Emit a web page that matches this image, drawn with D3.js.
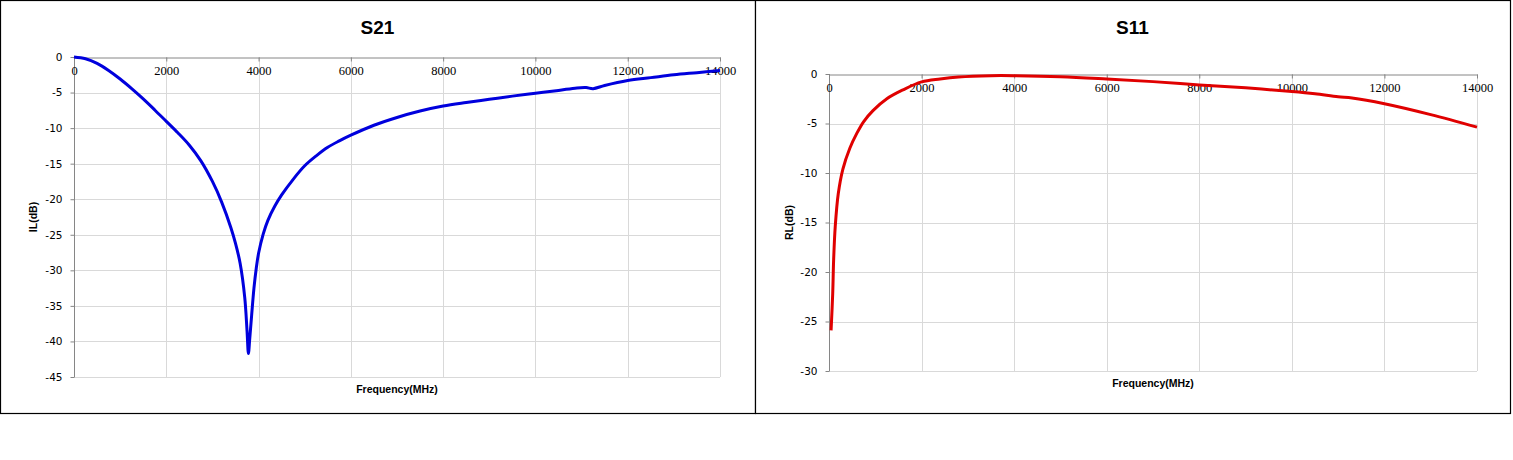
<!DOCTYPE html>
<html>
<head>
  <meta charset="utf-8">
  <script src="https://d3js.org/d3.v7.min.js"></script>
  <style>
    body { margin: 0; background: #fff; }
    svg { display: block; }
    .title { font-family: "Liberation Sans", Arial, sans-serif; font-weight: bold; font-size: 19px; fill: #000; }
    .axis-title { font-family: "Liberation Sans", Arial, sans-serif; font-weight: bold; font-size: 10.5px; fill: #000; }
    .xaxis text { font-family: "Liberation Serif", serif; font-size: 12.5px; fill: #000; }
    .yaxis text { font-family: "DejaVu Sans", sans-serif; font-size: 10.5px; fill: #000; }
    .xaxis line, .yaxis line, .xaxis path, .yaxis path { stroke: #868686; }
    .grid line { stroke: #d9d9d9; stroke-width: 1; }
  </style>
</head>
<body>
<script>
// S21 insertion loss
var s21Freq = [0, 250, 500, 750, 1000, 1250, 1500, 1750, 2000, 2250, 2500, 2750, 3000, 3200, 3400, 3500,
               3600, 3700, 3750, 3780, 3810, 3850, 3900, 3950, 4000, 4100, 4200, 4350, 4500, 4750, 5000,
               5250, 5500, 5750, 6000, 6500, 7000, 7500, 8000, 8500, 9000, 9500, 10000, 10500, 10900,
               11100, 11250, 11500, 12000, 12500, 13000, 13500, 14000];
var s21Loss = [0, -0.25, -0.9, -1.9, -3.1, -4.45, -5.9, -7.45, -9.05, -10.65, -12.4, -14.6, -17.5, -20.4, -24.0, -26.2,
               -29.0, -33.8, -38.5, -41.7, -39.5, -36.3, -32.5, -29.7, -27.6, -24.9, -23.0, -21.0, -19.4, -17.2, -15.3,
               -13.9, -12.7, -11.8, -11.0, -9.6, -8.5, -7.6, -6.9, -6.4, -5.95, -5.5, -5.1, -4.7, -4.35,
               -4.3, -4.45, -4.0, -3.3, -2.9, -2.5, -2.2, -1.9];

// S11 return loss
var s11Freq = [45, 80, 100, 135, 200, 300, 450, 600, 750, 950, 1250, 1600, 2000, 2400, 2800, 3500, 4000,
               5000, 6000, 7000, 8000, 9000, 10000, 10500, 11000, 11300, 12000, 13000, 14000];
var s11Return = [-25.9, -22.2, -18.8, -15.4, -12.1, -9.6, -7.5, -6.0, -4.8, -3.7, -2.5, -1.6, -0.8, -0.5, -0.3, -0.17, -0.17,
                 -0.27, -0.5, -0.77, -1.1, -1.4, -1.77, -2.0, -2.3, -2.42, -3.0, -4.1, -5.37];

var freqTicks = [0, 2000, 4000, 6000, 8000, 10000, 12000, 14000];
var s21Ticks = [0, -5, -10, -15, -20, -25, -30, -35, -40, -45];
var s11Ticks = [0, -5, -10, -15, -20, -25, -30];

var svg = d3.select("body").append("svg")
    .attr("width", 1513)
    .attr("height", 460);

function panel(cfg) {
  var g = svg.append("g");

  g.append("rect")
    .attr("x", cfg.box[0] + 0.5).attr("y", 0.5)
    .attr("width", cfg.box[1] - cfg.box[0]).attr("height", cfg.box[2])
    .attr("fill", "#fff").attr("stroke", "#000").attr("stroke-width", 1.2);

  var x = d3.scaleLinear().domain([0, 14000]).range([cfg.left, cfg.right]);
  var y = d3.scaleLinear().domain([0, cfg.yMin]).range([cfg.top, cfg.bottom]);

  // gridlines
  var grid = g.append("g").attr("class", "grid");
  grid.selectAll(".gx").data(freqTicks.slice(1)).enter().append("line")
    .attr("x1", function (d) { return Math.round(x(d)) + 0.5; })
    .attr("x2", function (d) { return Math.round(x(d)) + 0.5; })
    .attr("y1", y(0)).attr("y2", y(cfg.yMin));
  grid.selectAll(".gy").data(cfg.yTicks.slice(1)).enter().append("line")
    .attr("x1", x(0)).attr("x2", x(14000))
    .attr("y1", function (d) { return Math.round(y(d)) + 0.5; })
    .attr("y2", function (d) { return Math.round(y(d)) + 0.5; });

  // plain hyphen minus like the original, not d3's U+2212
  var yAxis = g.append("g")
    .attr("class", "yaxis")
    .attr("transform", "translate(" + (Math.round(x(0)) + 0.5) + ",0)")
    .call(d3.axisLeft(y).tickValues(cfg.yTicks).tickSize(4).tickSizeOuter(0).tickPadding(8)
      .tickFormat(function (d) { return String(d); }));
  yAxis.select(".domain").remove();
  yAxis.append("line").attr("y1", y(0)).attr("y2", y(cfg.yMin)).attr("stroke", "#868686");

  var xAxis = g.append("g")
    .attr("class", "xaxis")
    .attr("transform", "translate(0," + (Math.round(y(0)) + 0.5) + ")")
    .call(d3.axisBottom(x).tickValues(freqTicks).tickSize(4).tickSizeOuter(0)
      .tickFormat(function (d) { return String(d); }));
  xAxis.selectAll("text").attr("y", 9).attr("dy", "0.71em");

  g.append("path")
    .datum(cfg.freq.map(function (f, i) { return [f, cfg.vals[i]]; }))
    .attr("fill", "none")
    .attr("stroke", cfg.color)
    .attr("stroke-width", 3)
    .attr("stroke-linejoin", "round")
    .attr("d", d3.line()
      .x(function (d) { return x(d[0]); })
      .y(function (d) { return y(d[1]); })
      .curve(d3.curveCatmullRom.alpha(0.5)));

  g.append("text").attr("class", "title")
    .attr("x", (cfg.box[0] + cfg.box[1]) / 2).attr("y", 34)
    .attr("text-anchor", "middle").text(cfg.title);

  g.append("text").attr("class", "axis-title")
    .attr("x", (cfg.left + cfg.right) / 2).attr("y", cfg.bottom + 16)
    .attr("text-anchor", "middle").text("Frequency(MHz)");

  g.append("text").attr("class", "axis-title")
    .attr("transform", "translate(" + cfg.yLabelX + "," + (cfg.top + cfg.bottom) / 2 + ") rotate(-90)")
    .attr("text-anchor", "middle").attr("dy", "0.35em").text(cfg.yLabel);
}

panel({
  box: [0, 755, 413], left: 74, right: 720, top: 57, bottom: 377,
  yMin: -45, yTicks: s21Ticks, freq: s21Freq, vals: s21Loss,
  color: "#0000dd", title: "S21", yLabel: "IL(dB)", yLabelX: 33
});

panel({
  box: [755, 1510, 413], left: 829, right: 1477, top: 74, bottom: 371,
  yMin: -30, yTicks: s11Ticks, freq: s11Freq, vals: s11Return,
  color: "#e00000", title: "S11", yLabel: "RL(dB)", yLabelX: 789
});
</script>
</body>
</html>
